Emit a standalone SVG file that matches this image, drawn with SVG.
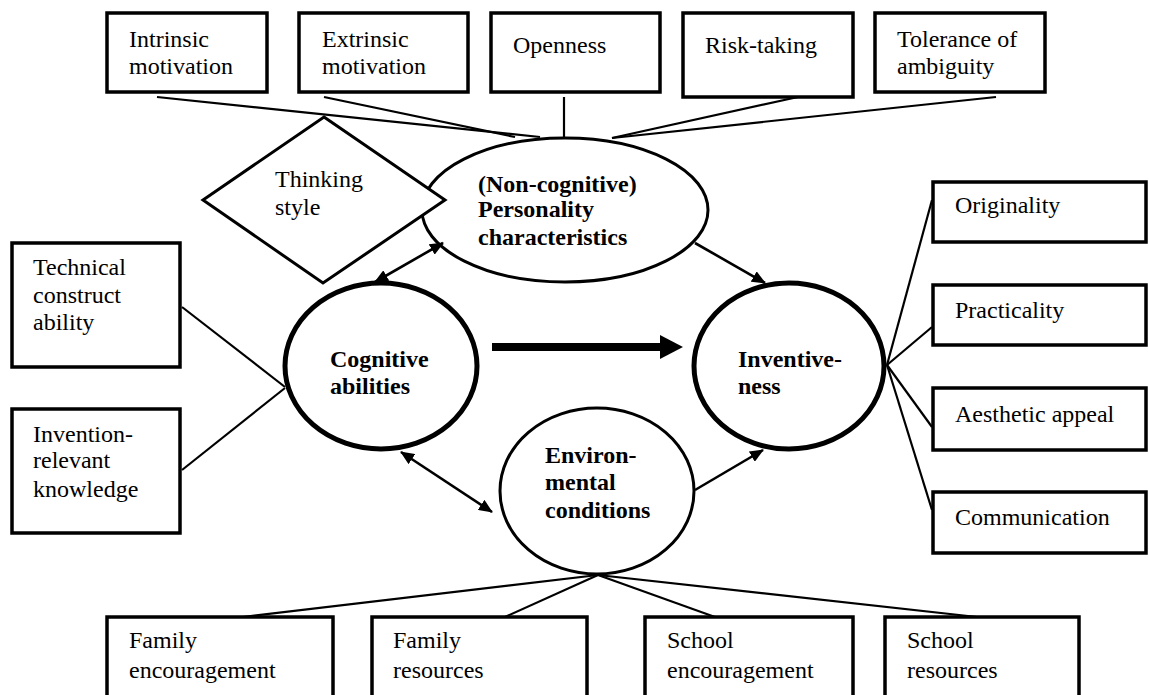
<svg xmlns="http://www.w3.org/2000/svg" width="1149" height="695" viewBox="0 0 1149 695">
<defs>
<style>
.box{fill:#fff;stroke:#000;stroke-width:3.5}
.t{font-family:"Liberation Serif","Times New Roman",serif;font-size:24px;fill:#000}
.b{font-family:"Liberation Serif","Times New Roman",serif;font-size:24px;font-weight:bold;fill:#000}
.ln{stroke:#000;stroke-width:2.2;fill:none}
.ar{stroke:#000;stroke-width:2.6;fill:none;marker-end:url(#ah)}
.dar{stroke:#000;stroke-width:2.6;fill:none;marker-end:url(#ah);marker-start:url(#ah)}
</style>
<marker id="ah" markerUnits="userSpaceOnUse" markerWidth="14" markerHeight="12" refX="13" refY="6" orient="auto-start-reverse" viewBox="0 0 14 12">
<path d="M0,0 L14,6 L0,12 z" fill="#000"/>
</marker>
</defs>
<rect width="1149" height="695" fill="#fff"/>

<g id="n-intrinsic"><rect class="box" x="107" y="13" width="160" height="79"/><text class="t" x="129" y="47">Intrinsic</text><text class="t" x="129" y="74">motivation</text></g>
<g id="n-extrinsic"><rect class="box" x="299" y="13" width="169" height="79"/><text class="t" x="322" y="47">Extrinsic</text><text class="t" x="322" y="74">motivation</text></g>
<g id="n-openness"><rect class="box" x="491" y="13" width="169" height="79"/><text class="t" x="513" y="53">Openness</text></g>
<g id="n-risk"><rect class="box" x="683" y="13" width="170" height="84"/><text class="t" x="705" y="53">Risk-taking</text></g>
<g id="n-tolerance"><rect class="box" x="875" y="13" width="170" height="79"/><text class="t" x="897" y="47">Tolerance of</text><text class="t" x="897" y="74">ambiguity</text></g>

<g id="n-technical"><rect class="box" x="12" y="243" width="168" height="124"/><text class="t" x="33" y="275">Technical</text><text class="t" x="33" y="303">construct</text><text class="t" x="33" y="330">ability</text></g>
<g id="n-invention"><rect class="box" x="12" y="409" width="168" height="124"/><text class="t" x="33" y="442">Invention-</text><text class="t" x="33" y="468">relevant</text><text class="t" x="33" y="497">knowledge</text></g>

<g id="n-originality"><rect class="box" x="933" y="182" width="213" height="60"/><text class="t" x="955" y="213">Originality</text></g>
<g id="n-practicality"><rect class="box" x="933" y="285" width="213" height="60"/><text class="t" x="955" y="318">Practicality</text></g>
<g id="n-aesthetic"><rect class="box" x="933" y="388" width="213" height="62"/><text class="t" x="955" y="422">Aesthetic appeal</text></g>
<g id="n-communication"><rect class="box" x="933" y="492" width="213" height="61"/><text class="t" x="955" y="525">Communication</text></g>

<g id="n-famenc"><rect class="box" x="107" y="617" width="226" height="90"/><text class="t" x="129" y="648">Family</text><text class="t" x="129" y="678">encouragement</text></g>
<g id="n-famres"><rect class="box" x="372" y="617" width="215" height="90"/><text class="t" x="393" y="648">Family</text><text class="t" x="393" y="678">resources</text></g>
<g id="n-schenc"><rect class="box" x="645" y="617" width="208" height="90"/><text class="t" x="667" y="648">School</text><text class="t" x="667" y="678">encouragement</text></g>
<g id="n-schres"><rect class="box" x="885" y="617" width="194" height="90"/><text class="t" x="907" y="648">School</text><text class="t" x="907" y="678">resources</text></g>

<g id="n-personality"><ellipse cx="565" cy="210" rx="143" ry="72" fill="#fff" stroke="#000" stroke-width="3"/><text class="b" x="478" y="192">(Non-cognitive)</text><text class="b" x="478" y="217">Personality</text><text class="b" x="478" y="245">characteristics</text></g>
<g id="n-thinking"><polygon points="324,117 445,200 323,283 203,200" fill="#fff" stroke="#000" stroke-width="3"/><text class="t" x="275" y="187">Thinking</text><text class="t" x="275" y="215">style</text></g>
<g id="n-cognitive"><ellipse cx="381" cy="366" rx="96" ry="83" fill="#fff" stroke="#000" stroke-width="5"/><text class="b" x="330" y="367">Cognitive</text><text class="b" x="330" y="394">abilities</text></g>
<g id="n-inventiveness"><ellipse cx="789" cy="366" rx="95" ry="83" fill="#fff" stroke="#000" stroke-width="5"/><text class="b" x="738" y="367">Inventive-</text><text class="b" x="738" y="394">ness</text></g>
<g id="n-environment"><ellipse cx="597" cy="491" rx="97" ry="83" fill="#fff" stroke="#000" stroke-width="3"/><text class="b" x="545" y="463">Environ-</text><text class="b" x="545" y="490">mental</text><text class="b" x="545" y="518">conditions</text></g>

<g id="connectors">
<line class="ln" x1="157" y1="97" x2="540" y2="137"/>
<line class="ln" x1="324" y1="97" x2="515" y2="137"/>
<line class="ln" x1="564" y1="97" x2="564" y2="137"/>
<line class="ln" x1="798" y1="97" x2="612" y2="138"/>
<line class="ln" x1="996" y1="97" x2="612" y2="138"/>
<line class="ln" x1="182" y1="307" x2="285" y2="387"/>
<line class="ln" x1="182" y1="470" x2="285" y2="388"/>
<line class="ln" x1="887" y1="365" x2="932" y2="200"/>
<line class="ln" x1="887" y1="365" x2="932" y2="327"/>
<line class="ln" x1="887" y1="365" x2="932" y2="427"/>
<line class="ln" x1="887" y1="365" x2="932" y2="510"/>
<line class="ln" x1="598" y1="575" x2="243" y2="617"/>
<line class="ln" x1="598" y1="575" x2="505" y2="617"/>
<line class="ln" x1="598" y1="575" x2="715" y2="617"/>
<line class="ln" x1="598" y1="575" x2="977" y2="617"/>
<line class="dar" x1="375" y1="282" x2="443" y2="243"/>
<line class="dar" x1="401" y1="452" x2="492" y2="512"/>
<line class="ar" x1="695" y1="243" x2="765" y2="283"/>
<line class="ar" x1="695" y1="490" x2="763" y2="450"/>
<rect x="492" y="343" width="170" height="8" fill="#000"/>
<polygon points="660,335 683,347 660,359" fill="#000"/>
</g>
</svg>
